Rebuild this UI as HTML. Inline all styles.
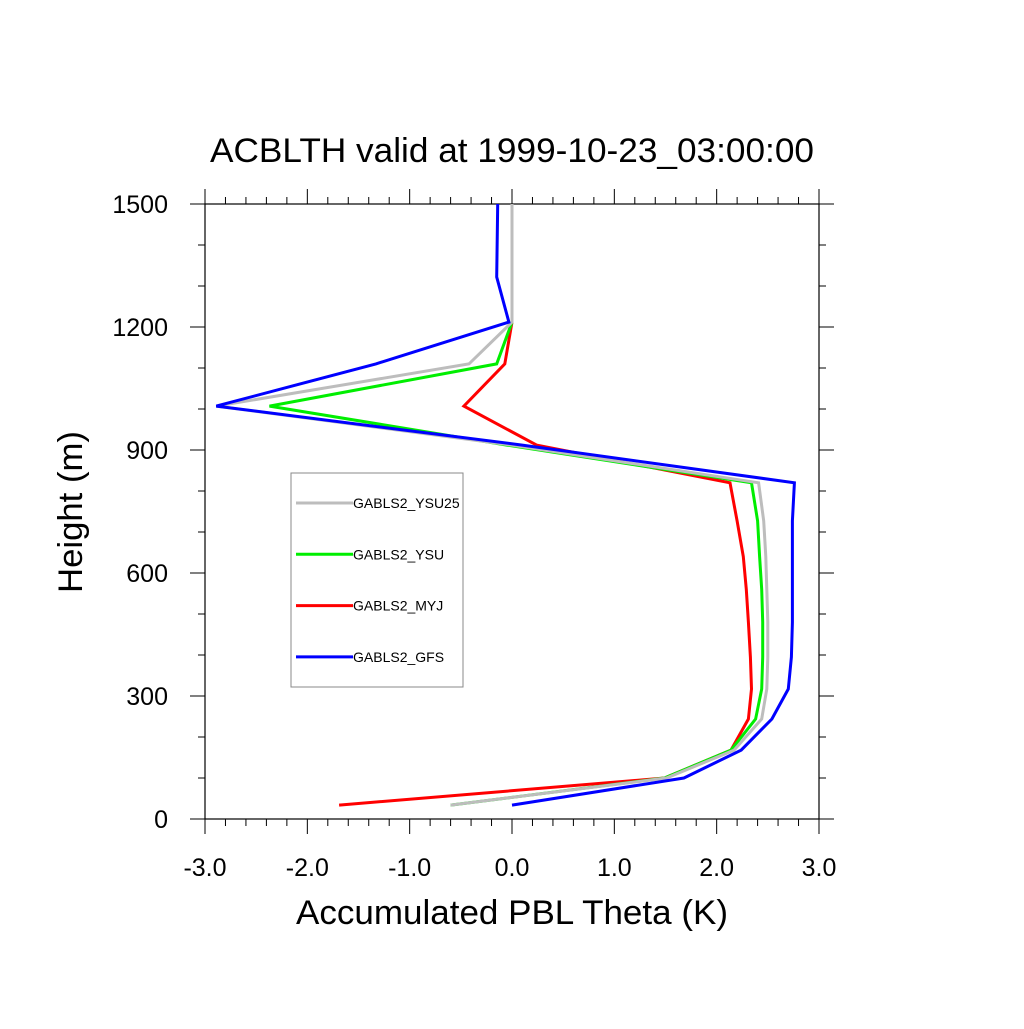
<!DOCTYPE html>
<html><head><meta charset="utf-8"><style>
body{margin:0;background:#fff}
svg text{font-family:"Liberation Sans",sans-serif;fill:#000}
</style></head><body>
<svg id="chart" width="1024" height="1024" xmlns="http://www.w3.org/2000/svg">
<rect width="1024" height="1024" fill="#fff"/>
<text x="512" y="162" font-size="34" text-anchor="middle" textLength="604" lengthAdjust="spacingAndGlyphs">ACBLTH valid at 1999-10-23_03:00:00</text>
<g id="axes"></g>
<g id="series"></g>
<text x="512" y="924" font-size="34" text-anchor="middle" textLength="432" lengthAdjust="spacingAndGlyphs">Accumulated PBL Theta (K)</text>
<text transform="translate(82,512) rotate(-90)" font-size="34" text-anchor="middle" textLength="162" lengthAdjust="spacingAndGlyphs">Height (m)</text>
<g>
<rect x="291" y="473" width="172" height="214" fill="#fff" stroke="#888" stroke-width="1"/>
</g>
<g id="legend-entries"></g>
</svg>
<script>
const heights=[34,100,168,244,317,395,480,560,640,727,820,912,1007,1110,1212,1322,1500];
const seriesNames=["GABLS2_YSU25","GABLS2_YSU","GABLS2_MYJ","GABLS2_GFS"];
const seriesColors=["#bdbdbd","#00ee00","#ff0000","#0000ff"];
const ysu25=[-0.6,1.51,2.17,2.44,2.49,2.50,2.50,2.49,2.48,2.46,2.41,0.0,-2.89,-0.42,0.0,0.0,0.0];
const ysu=[-0.6,1.49,2.14,2.38,2.44,2.45,2.45,2.44,2.42,2.40,2.34,-0.05,-2.37,-0.15,0.0,0.0,0.0];
const myj=[-1.69,1.49,2.14,2.31,2.34,2.33,2.31,2.29,2.26,2.20,2.13,0.24,-0.47,-0.07,0.0,0.0,0.0];
const gfs=[0.0,1.68,2.24,2.54,2.70,2.73,2.74,2.74,2.74,2.74,2.76,0.1,-2.89,-1.33,-0.03,-0.15,-0.14];
const xTicks=["-3.0","-2.0","-1.0","0.0","1.0","2.0","3.0"];
const yTicks=["0","300","600","900","1200","1500"];
const NS="http://www.w3.org/2000/svg";
const X0=205,X1=819,Y0=819,Y1=204;
function xs(v){return X0+(v+3)/6*(X1-X0);}
function ys(v){return Y0-v/1500*(Y0-Y1);}
function mk(t,a,p){const e=document.createElementNS(NS,t);for(const k in a)e.setAttribute(k,a[k]);p.appendChild(e);return e;}
const ax=document.getElementById('axes');
const frame=mk('rect',{x:X0,y:Y1,width:X1-X0,height:Y0-Y1,fill:'none',stroke:'#000','stroke-width':1.2},ax);


for(let i=0;i<=30;i++){const v=-3+i*0.2;const x=xs(v);const L=(i%5==0)?15:7;
 mk('line',{x1:x,x2:x,y1:Y0,y2:Y0+L,stroke:'#000','stroke-width':1},ax);
 mk('line',{x1:x,x2:x,y1:Y1,y2:Y1-L,stroke:'#000','stroke-width':1},ax);}
xTicks.forEach((s,i)=>{const t=mk('text',{x:xs(parseFloat(s)),y:876,'font-size':25,'text-anchor':'middle'},ax);t.textContent=s;
 
 });
for(let i=0;i<=15;i++){const y=ys(i*100);const L=(i%3==0)?15:7;
 mk('line',{x1:X0,x2:X0-L,y1:y,y2:y,stroke:'#000','stroke-width':1},ax);
 mk('line',{x1:X1,x2:X1+L,y1:y,y2:y,stroke:'#000','stroke-width':1},ax);}
yTicks.forEach(s=>{const t=mk('text',{x:168,y:ys(parseFloat(s))+9,'font-size':25,'text-anchor':'end'},ax);t.textContent=s;
 
 });
const sg=document.getElementById('series');
const order=[2,1,0,3];
const all=[ysu25,ysu,myj,gfs];
order.forEach(k=>{const d=all[k];const pts=d.map((v,i)=>xs(v).toFixed(1)+','+ys(heights[i]).toFixed(1)).join(' ');
 const p=mk('polyline',{points:pts,fill:'none',stroke:seriesColors[k],'stroke-width':3,'stroke-linejoin':'miter'},sg);
 
 });
const lg=document.getElementById('legend-entries');
seriesNames.forEach((n,k)=>{const y=503+k*51.3;
 const l=mk('line',{x1:296,x2:353,y1:y,y2:y,stroke:seriesColors[k],'stroke-width':3},lg);
 
 
 const t=mk('text',{x:353,y:y+5,'font-size':14},lg);t.textContent=n;
 
 });
</script>
</body></html>
